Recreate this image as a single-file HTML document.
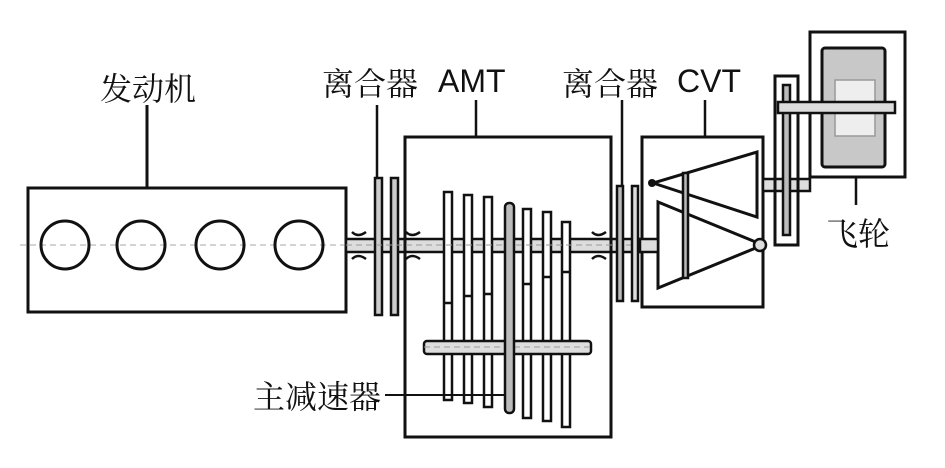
<!DOCTYPE html>
<html><head><meta charset="utf-8"><style>
body{margin:0;background:#fff;}
svg text{font-family:"Liberation Sans","Noto Serif CJK SC",serif;fill:#111;}
</style></head><body>
<svg width="945" height="463" viewBox="0 0 945 463" xmlns="http://www.w3.org/2000/svg">
<g fill="none" stroke="#111" stroke-width="3">
<!-- engine -->
<rect x="28" y="188" width="318" height="124"/>
<line x1="20" y1="245" x2="346" y2="245" stroke="#aaa" stroke-width="1" stroke-dasharray="6 4"/>
<circle cx="65" cy="245" r="24"/><circle cx="141" cy="245" r="24"/><circle cx="220" cy="245" r="24"/><circle cx="299" cy="245" r="24"/>
<line x1="147" y1="105" x2="147" y2="188"/>
<!-- main shaft -->
<rect x="346" y="239" width="294" height="13" fill="#ddd" stroke-width="2.5"/>
<!-- clutch 1 -->
<rect x="375" y="178" width="7" height="137" fill="#ccc" stroke-width="2.5"/>
<rect x="391" y="178" width="7" height="137" fill="#ccc" stroke-width="2.5"/>
<line x1="377" y1="105" x2="377" y2="178" stroke-width="2.5"/>
<path d="M352 232 q6 6 14 0 M352 259 q6 -6 14 0 M406 232 q6 6 14 0 M406 259 q6 -6 14 0 M592 232 q6 6 14 0 M592 259 q6 -6 14 0" stroke-width="2.5"/>
<!-- AMT -->
<rect x="405" y="137" width="206" height="300"/>
<line x1="476" y1="100" x2="476" y2="137" stroke-width="2.5"/>
<rect x="444" y="192" width="8" height="208" fill="#fff" stroke-width="2.5"/>
<rect x="464" y="195" width="8" height="208" fill="#fff" stroke-width="2.5"/>
<rect x="484" y="197" width="8" height="210" fill="#fff" stroke-width="2.5"/>
<rect x="523" y="209" width="8" height="209" fill="#fff" stroke-width="2.5"/>
<rect x="543" y="212" width="8" height="209" fill="#fff" stroke-width="2.5"/>
<rect x="562" y="222" width="8" height="205" fill="#fff" stroke-width="2.5"/>
<path d="M444 303h8M464 296h8M484 294h8M523 284h8M543 277h8M562 272h8" stroke-width="2.5"/>
<rect x="424" y="341" width="167" height="13" rx="3" fill="#ddd" stroke-width="2.5"/>
<line x1="346" y1="245" x2="640" y2="245" stroke="#999" stroke-width="1" stroke-dasharray="6 4"/>
<line x1="424" y1="347" x2="590" y2="347" stroke="#999" stroke-width="1" stroke-dasharray="6 4"/>
<rect x="505" y="203" width="9" height="210" rx="4" fill="#bbb" stroke-width="2.5"/>
<line x1="385" y1="395" x2="505" y2="395" stroke-width="2"/>
<!-- clutch 2 -->
<rect x="617" y="186" width="6" height="115" fill="#bbb" stroke-width="2.5"/>
<rect x="632" y="186" width="6" height="115" fill="#ddd" stroke-width="2.5"/>
<line x1="622" y1="100" x2="622" y2="186" stroke-width="2.5"/>
<!-- CVT -->
<rect x="642" y="137" width="121" height="170"/>
<line x1="705" y1="100" x2="705" y2="137" stroke-width="2.5"/>
<polygon points="653,183 757,152 757,217"/>
<polygon points="658,202 658,288 763,245"/>
<rect x="683" y="173" width="5" height="105" fill="#bbb" stroke-width="2.5"/>
<rect x="640" y="239" width="18" height="13" fill="#ddd" stroke-width="2.5"/>
<circle cx="760" cy="245" r="6" fill="#ddd" stroke-width="2.5"/>
<rect x="763" y="179" width="47" height="12" fill="#ddd" stroke-width="2.5"/>
<circle cx="652" cy="183" r="4" fill="#111" stroke="none"/>
<!-- small gear box -->
<rect x="775" y="76" width="23" height="169"/>
<rect x="783" y="85" width="7" height="150" fill="#bbb" stroke-width="2.5"/>
<!-- flywheel -->
<rect x="810" y="32" width="95" height="145"/>
<rect x="822" y="48" width="63" height="119" rx="3" fill="#c8c8c8"/>
<rect x="835" y="80" width="40" height="56" fill="#eee" stroke="#999" stroke-width="1.5"/>
<rect x="778" y="102" width="117" height="11" fill="#ddd" stroke-width="2.5"/>
<line x1="856" y1="177" x2="856" y2="205" stroke-width="2.5"/>
</g>
<g font-size="32">
<text x="100" y="100">发动机</text>
<text x="322" y="95">离合器</text>
<text x="438" y="92" font-family="Liberation Sans, sans-serif">AMT</text>
<text x="562" y="95">离合器</text>
<text x="677" y="92" font-family="Liberation Sans, sans-serif">CVT</text>
<text x="826" y="245">飞轮</text>
<text x="253" y="408">主减速器</text>
</g>
</svg>
</body></html>
